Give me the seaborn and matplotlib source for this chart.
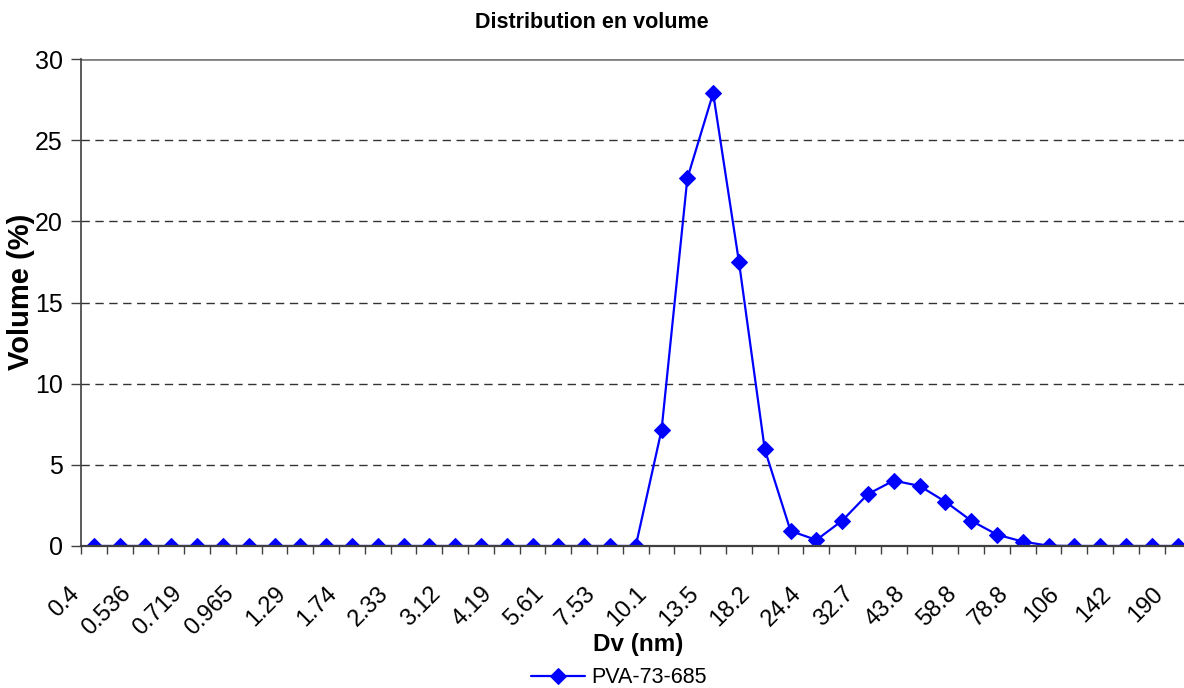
import numpy as np
import pandas as pd
import matplotlib
matplotlib.use("Agg")
import matplotlib.pyplot as plt
import matplotlib.transforms as mtransforms
import seaborn as sns

# Particle size classes (nm) and volume distribution (%)
sizes = ["0.4", "0.463", "0.536", "0.621", "0.719", "0.833", "0.965", "1.12",
         "1.29", "1.50", "1.74", "2.01", "2.33", "2.70", "3.12", "3.62",
         "4.19", "4.85", "5.61", "6.50", "7.53", "8.72", "10.1", "11.7",
         "13.5", "15.7", "18.2", "21.0", "24.4", "28.2", "32.7", "37.8",
         "43.8", "50.7", "58.8", "68.1", "78.8", "91.3", "106", "122",
         "142", "164", "190"]
volume = [0, 0, 0, 0, 0, 0, 0, 0, 0, 0, 0, 0, 0, 0, 0, 0, 0, 0, 0, 0, 0, 0,
          7.15, 22.65, 27.9, 17.5, 5.95, 0.93, 0.37, 1.56, 3.2, 4.03, 3.7,
          2.73, 1.56, 0.7, 0.27, 0.02, 0, 0, 0, 0, 0]
series_name = "PVA-73-685"

df = pd.DataFrame({"pos": np.arange(len(sizes)), "size": sizes, "volume": volume})

sns.set_theme(style="white")
plt.rcParams["font.family"] = ["Liberation Sans", "DejaVu Sans"]
plt.rcParams["text.color"] = "black"
plt.rcParams["axes.labelcolor"] = "black"

fig = plt.figure(figsize=(11.84, 6.88), dpi=100)
ax = fig.add_axes([0.0684, 0.2064, 0.9371, 0.7078])

sns.lineplot(data=df, x="pos", y="volume", ax=ax, color="#0000FF",
             linewidth=1.6, marker="D", markersize=8.5, markeredgecolor="#0000FF",
             label=series_name)

ax.set_xlim(-0.5, len(sizes) - 0.5)
ax.set_ylim(0, 30)

# Horizontal gridlines
for yv in [5, 10, 15, 20, 25]:
    ax.axhline(yv, color="#333333", linestyle=(0, (6, 4)), linewidth=1.0, zorder=0)
ax.axhline(30, color="#808080", linewidth=2.0, zorder=0)

for side in ["top", "right"]:
    ax.spines[side].set_visible(False)
ax.spines["left"].set_color("#404040")
ax.spines["bottom"].set_color("#404040")
ax.spines["left"].set_linewidth(1.2)
ax.spines["bottom"].set_linewidth(1.6)

ax.set_yticks([0, 5, 10, 15, 20, 25, 30])
ax.tick_params(axis="y", which="major", direction="out", length=7, width=1,
               color="#404040", labelcolor="black", labelsize=18, pad=6, left=True)

# Category labels on every other class, tick marks between classes
ax.set_xticks(df["pos"][::2])
ax.set_xticklabels(df["size"][::2], rotation=45, ha="right", va="center",
                   rotation_mode="anchor")
ax.set_xticks(np.arange(-0.5, len(sizes), 1.0), minor=True)
ax.tick_params(axis="x", which="major", length=0, labelsize=17, pad=32,
               labelcolor="black")
ax.tick_params(axis="x", which="minor", direction="out", length=6, width=1,
               color="#404040", bottom=True)
shift = mtransforms.ScaledTranslation(-18 / 100, 0, fig.dpi_scale_trans)
for lbl in ax.get_xticklabels():
    lbl.set_transform(lbl.get_transform() + shift)

ax.set_xlabel("Dv (nm)", fontsize=17.5, fontweight="bold", va="top")
ax.xaxis.set_label_coords(0.502, -0.178)
ax.set_ylabel("Volume (%)", fontsize=21, fontweight="bold", va="bottom")
ax.yaxis.set_label_coords(-0.041, 0.522)
fig.text(0.5, 0.968, "Distribution en volume", ha="center", va="center",
         fontsize=15.5, fontweight="bold")

ax.legend(loc="center", bbox_to_anchor=(0.523, 0.015), bbox_transform=fig.transFigure,
          frameon=False, fontsize=15.5, handlelength=2.5, handletextpad=0.3,
          borderpad=0)

fig.savefig("out.png", dpi=100)
